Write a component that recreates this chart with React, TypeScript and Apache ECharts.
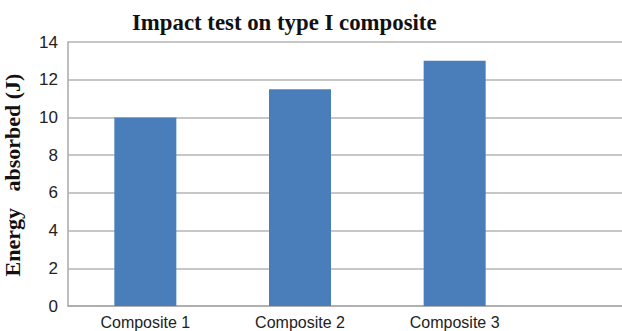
import React, { useEffect, useRef } from "react";
import * as echarts from "echarts";

const categories = ["Composite 1", "Composite 2", "Composite 3"];
const energyAbsorbed = [10.0, 11.5, 13.0];
const yMin = 0;
const yMax = 14;
const yStep = 2;

export default function App() {
  const ref = useRef<HTMLDivElement>(null);

  useEffect(() => {
    if (!ref.current) return;
    const chart = echarts.init(ref.current, undefined, { renderer: "svg" });
    const gridTop = 42;
    const gridBottom = 25;
    chart.setOption({
      animation: false,
      backgroundColor: "#ffffff",
      title: {
        text: "Impact test on type I composite",
        left: 127,
        top: 6,
        textStyle: {
          fontFamily: "Liberation Serif",
          fontWeight: "bold",
          fontSize: 22.8,
          color: "#111",
        },
      },
      graphic: [
        {
          type: "text",
          x: 12,
          y: 175,
          rotation: Math.PI / 2,
          style: {
            text: "Energy   absorbed (J)",
            fontFamily: "Liberation Serif",
            fontWeight: "bold",
            fontSize: 22,
            fill: "#111",
            textAlign: "center",
            textVerticalAlign: "middle",
          },
        },
      ],
      grid: [
        { left: 68, right: 90, top: gridTop, bottom: gridBottom },
        { left: 68, right: 0, top: gridTop, bottom: gridBottom },
      ],
      xAxis: [
        {
          type: "category",
          gridIndex: 0,
          data: categories,
          axisLine: { show: false },
          axisTick: { show: false },
          axisLabel: {
            margin: 8,
            fontFamily: "Liberation Sans",
            fontSize: 16,
            color: "#222",
          },
        },
        {
          type: "value",
          gridIndex: 1,
          show: true,
          axisLine: { show: true, lineStyle: { color: "#a8a8a8", width: 1.5 } },
          axisTick: { show: false },
          axisLabel: { show: false },
          splitLine: { show: false },
        },
      ],
      yAxis: [
        {
          type: "value",
          gridIndex: 0,
          min: yMin,
          max: yMax,
          interval: yStep,
          axisLine: { show: true, lineStyle: { color: "#a8a8a8", width: 1.5 } },
          axisTick: { show: false },
          splitLine: { show: false },
          axisLabel: {
            margin: 10,
            fontFamily: "Liberation Sans",
            fontSize: 17,
            color: "#222",
          },
        },
        {
          type: "value",
          gridIndex: 1,
          min: yMin,
          max: yMax,
          interval: yStep,
          axisLine: { show: false },
          axisTick: { show: false },
          axisLabel: { show: false },
          splitLine: { show: true, lineStyle: { color: "#b4b4b4", width: 1.5 } },
        },
      ],
      series: [
        {
          type: "bar",
          xAxisIndex: 0,
          yAxisIndex: 0,
          data: energyAbsorbed,
          barWidth: 62,
          itemStyle: { color: "#4a7ebb" },
          z: 5,
        },
      ],
    });
    return () => chart.dispose();
  }, []);

  return (
    <div
      ref={ref}
      style={{ position: "fixed", left: 0, top: 0, width: 622, height: 331 }}
    />
  );
}
